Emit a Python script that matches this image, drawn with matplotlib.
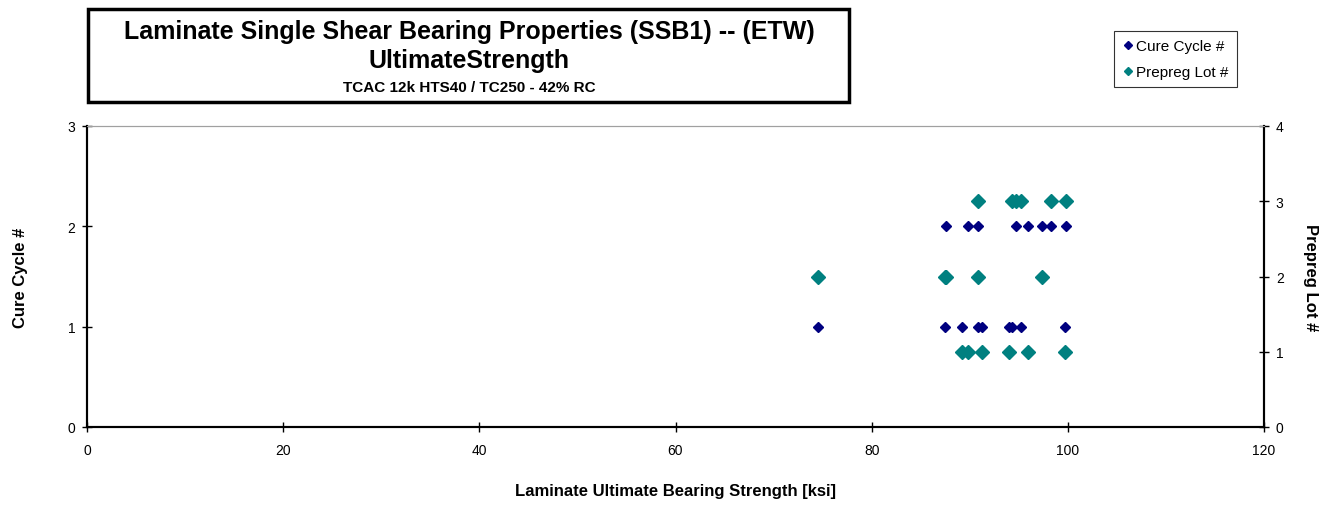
# --- Laminate Single Shear Bearing Properties (SSB1) -- (ETW) scatter ---
import matplotlib
matplotlib.use('Agg')
import matplotlib.pyplot as plt
from matplotlib.patches import Rectangle

plt.rcParams['font.family'] = ['Liberation Sans', 'DejaVu Sans']

# --- Data ---
# Strength values [ksi] grouped by cure cycle and prepreg lot
cure1_ksi = [74.5, 87.5, 89.2, 90.8, 91.2, 94.0, 94.3, 95.2, 99.7]
cure2_ksi = [87.6, 89.8, 90.8, 94.7, 95.9, 97.4, 98.3, 99.8]
lot1_ksi = [89.2, 89.8, 91.2, 94.0, 95.9, 99.7]
lot2_ksi = [74.5, 87.5, 87.6, 90.8, 97.4]
lot3_ksi = [90.8, 94.3, 94.7, 95.2, 98.3, 99.8]

cure_x = cure1_ksi + cure2_ksi
cure_y = [1] * len(cure1_ksi) + [2] * len(cure2_ksi)
lot_x = lot1_ksi + lot2_ksi + lot3_ksi
lot_y = [1] * len(lot1_ksi) + [2] * len(lot2_ksi) + [3] * len(lot3_ksi)

navy = '#000080'
teal = '#008080'

# --- Figure ---
W, H = 1329, 506
fig = plt.figure(figsize=(W / 100, H / 100), dpi=100)
ax = fig.add_axes([87 / W, 1 - 428 / H, (1264 - 87) / W, (428 - 127) / H])
ax2 = ax.twinx()

ax.plot(cure_x, cure_y, linestyle='none', marker='D', ms=5.2,
        color=navy, label='Cure Cycle #')
ax2.plot(lot_x, lot_y, linestyle='none', marker='D', ms=7.2,
         color=teal, label='Prepreg Lot #')

ax.set_xlim(0, 120)
ax.set_ylim(0, 3)
ax2.set_ylim(0, 4)
ax.set_xticks(range(0, 121, 20))
ax.set_yticks([0, 1, 2, 3])
ax2.set_yticks([0, 1, 2, 3, 4])

for a in (ax, ax2):
    for side in ('left', 'bottom', 'right'):
        a.spines[side].set_linewidth(1.5)
        a.spines[side].set_color('black')
    a.spines['top'].set_color('#a0a0a0')
    a.spines['top'].set_linewidth(0.8)
    a.tick_params(direction='inout', length=7, width=1, labelsize=10,
                  colors='black', pad=5)
ax.tick_params(axis='x', pad=8)

ax.set_xlabel('Laminate Ultimate Bearing Strength [ksi]', fontsize=12,
              fontweight='bold', labelpad=19)
ax.set_ylabel('Cure Cycle #', fontsize=12, fontweight='bold', labelpad=28)
ax2.set_ylabel('Prepreg Lot #', fontsize=12, fontweight='bold',
               rotation=-90, labelpad=25)

# --- Title box ---
fig.patches.append(Rectangle((88 / W, 1 - 103 / H), (849 - 88) / W, 93 / H,
                             transform=fig.transFigure, fill=False,
                             edgecolor='black', linewidth=2.5))
cx = 469 / W
fig.text(cx, 1 - 32 / H, 'Laminate Single Shear Bearing Properties (SSB1) -- (ETW)',
         ha='center', va='center', fontsize=18, fontweight='bold')
fig.text(cx, 1 - 61 / H, 'UltimateStrength', ha='center', va='center',
         fontsize=18, fontweight='bold')
fig.text(cx, 1 - 88 / H, 'TCAC 12k HTS40 / TC250 - 42% RC', ha='center',
         va='center', fontsize=11, fontweight='bold')

# --- Legend ---
h1, l1 = ax.get_legend_handles_labels()
h2, l2 = ax2.get_legend_handles_labels()
leg = fig.legend(h1 + h2, l1 + l2, loc='upper left',
                 bbox_to_anchor=(1114 / W, 1 - 32 / H), fontsize=11,
                 frameon=True, fancybox=False, edgecolor='black',
                 handlelength=0.7, handletextpad=0.2, borderpad=0.55,
                 labelspacing=0.75, borderaxespad=0)
leg.get_frame().set_linewidth(0.8)
for hnd in leg.legend_handles:
    hnd.set_markersize(4.2)

fig.savefig('out.png', dpi=100)
